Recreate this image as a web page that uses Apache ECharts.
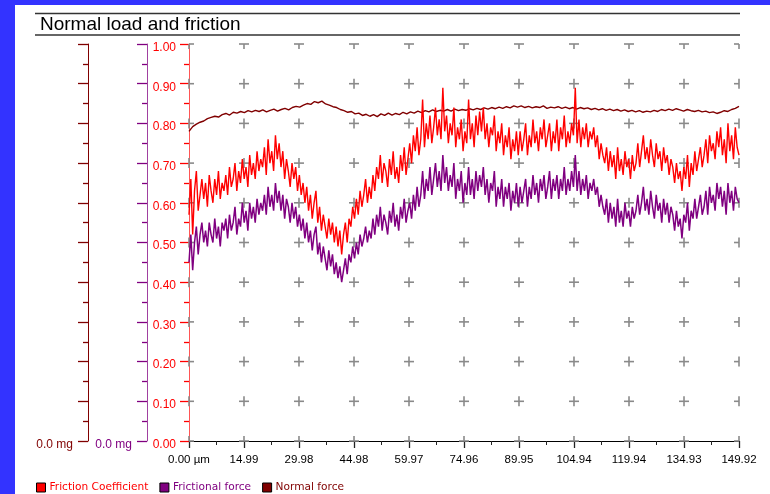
<!DOCTYPE html>
<html>
<head>
<meta charset="utf-8">
<script src="https://cdn.jsdelivr.net/npm/echarts@6/dist/echarts.min.js"></script>
<style>
html,body{margin:0;padding:0;background:#fff;}
#c{width:770px;height:494px;}
</style>
</head>
<body>
<div id="c"></div>
<script>
// ---- data ----
const xTickValues = [0, 14.99, 29.98, 44.98, 59.97, 74.96, 89.95, 104.94, 119.94, 134.93, 149.92];
const xTickLabels = ['0.00 µm', '14.99', '29.98', '44.98', '59.97', '74.96', '89.95', '104.94', '119.94', '134.93', '149.92'];
const yTickValues = [0, 0.1, 0.2, 0.3, 0.4, 0.5, 0.6, 0.7, 0.8, 0.9, 1.0];
const yTickLabels = ['0.00', '0.10', '0.20', '0.30', '0.40', '0.50', '0.60', '0.70', '0.80', '0.90', '1.00'];
const seriesNames = ['Friction Coefficient', 'Frictional force', 'Normal force'];

const frictionCoefficient = [
0.57,0.66,0.52,0.63,0.68,0.58,0.62,0.66,0.61,0.65,0.59,0.67,0.63,0.60,0.66,0.62,0.68,0.61,0.65,0.63,
0.67,0.62,0.69,0.64,0.66,0.70,0.63,0.68,0.65,0.71,0.66,0.69,0.64,0.72,0.67,0.70,0.66,0.73,0.68,0.71,
0.69,0.74,0.67,0.76,0.70,0.73,0.68,0.77,0.71,0.75,0.69,0.73,0.66,0.71,0.68,0.64,0.70,0.66,0.69,0.63,
0.67,0.62,0.65,0.60,0.64,0.58,0.62,0.56,0.60,0.63,0.55,0.59,0.53,0.57,0.54,0.51,0.56,0.52,0.55,0.50,
0.54,0.49,0.53,0.47,0.52,0.55,0.50,0.56,0.54,0.59,0.56,0.61,0.57,0.63,0.59,0.62,0.66,0.60,0.64,0.61,
0.67,0.63,0.69,0.66,0.72,0.65,0.70,0.68,0.64,0.71,0.67,0.73,0.66,0.69,0.65,0.72,0.68,0.74,0.67,0.71,
0.75,0.70,0.77,0.73,0.79,0.72,0.76,0.86,0.74,0.80,0.76,0.82,0.75,0.79,0.84,0.77,0.81,0.76,0.89,0.78,
0.82,0.75,0.80,0.77,0.84,0.74,0.79,0.76,0.81,0.73,0.78,0.75,0.86,0.76,0.80,0.74,0.82,0.77,0.83,0.78,
0.84,0.76,0.80,0.74,0.79,0.77,0.82,0.73,0.78,0.75,0.80,0.72,0.77,0.74,0.79,0.71,0.76,0.73,0.78,0.72,
0.78,0.73,0.76,0.80,0.72,0.77,0.74,0.81,0.75,0.78,0.73,0.79,0.76,0.81,0.74,0.77,0.80,0.73,0.78,0.75,
0.81,0.73,0.79,0.76,0.82,0.74,0.78,0.75,0.80,0.77,0.89,0.75,0.81,0.74,0.79,0.76,0.80,0.74,0.78,0.76,
0.79,0.74,0.77,0.71,0.75,0.72,0.70,0.74,0.68,0.73,0.69,0.72,0.66,0.74,0.68,0.71,0.67,0.73,0.69,0.71,
0.66,0.72,0.68,0.70,0.75,0.69,0.73,0.77,0.71,0.74,0.70,0.76,0.72,0.69,0.75,0.71,0.73,0.68,0.74,0.70,
0.72,0.67,0.71,0.69,0.65,0.70,0.66,0.68,0.63,0.69,0.66,0.72,0.64,0.70,0.67,0.73,0.68,0.71,0.74,0.69,
0.72,0.76,0.70,0.77,0.73,0.75,0.71,0.78,0.74,0.79,0.72,0.76,0.70,0.80,0.73,0.77,0.71,0.79,0.74,0.72
];
const frictionalForce = [
0.45,0.52,0.43,0.50,0.54,0.47,0.52,0.55,0.50,0.53,0.49,0.55,0.52,0.50,0.56,0.51,0.54,0.49,0.55,0.53,
0.56,0.51,0.57,0.53,0.55,0.59,0.52,0.56,0.54,0.60,0.55,0.58,0.53,0.60,0.56,0.59,0.55,0.61,0.57,0.60,
0.58,0.62,0.57,0.64,0.59,0.62,0.58,0.65,0.60,0.63,0.58,0.62,0.56,0.61,0.59,0.55,0.60,0.56,0.59,0.54,
0.57,0.53,0.56,0.51,0.55,0.50,0.53,0.48,0.52,0.54,0.47,0.50,0.45,0.49,0.46,0.43,0.48,0.44,0.47,0.42,
0.45,0.41,0.44,0.40,0.43,0.46,0.42,0.47,0.45,0.49,0.46,0.50,0.47,0.52,0.49,0.51,0.54,0.50,0.53,0.51,
0.56,0.52,0.57,0.54,0.59,0.53,0.57,0.55,0.52,0.58,0.55,0.60,0.54,0.57,0.53,0.59,0.56,0.61,0.55,0.58,
0.60,0.56,0.62,0.58,0.64,0.59,0.62,0.68,0.61,0.66,0.63,0.69,0.62,0.66,0.70,0.64,0.68,0.63,0.72,0.65,
0.69,0.63,0.67,0.64,0.70,0.61,0.66,0.63,0.68,0.60,0.65,0.62,0.69,0.62,0.66,0.61,0.68,0.63,0.67,0.64,
0.69,0.62,0.66,0.60,0.65,0.63,0.68,0.59,0.64,0.61,0.66,0.59,0.64,0.61,0.65,0.58,0.63,0.60,0.65,0.59,
0.64,0.60,0.63,0.66,0.59,0.64,0.61,0.67,0.62,0.65,0.60,0.66,0.63,0.67,0.61,0.64,0.68,0.61,0.66,0.63,
0.67,0.61,0.66,0.63,0.69,0.62,0.66,0.63,0.68,0.64,0.72,0.63,0.68,0.62,0.66,0.63,0.67,0.61,0.65,0.63,
0.66,0.62,0.64,0.59,0.62,0.59,0.57,0.61,0.55,0.60,0.56,0.59,0.54,0.61,0.55,0.58,0.54,0.60,0.56,0.58,
0.54,0.59,0.56,0.58,0.62,0.57,0.60,0.64,0.58,0.61,0.57,0.63,0.59,0.56,0.62,0.58,0.60,0.55,0.61,0.57,
0.60,0.55,0.59,0.57,0.53,0.58,0.54,0.56,0.51,0.57,0.55,0.60,0.53,0.58,0.56,0.61,0.56,0.59,0.62,0.57,
0.59,0.63,0.57,0.64,0.60,0.62,0.58,0.65,0.61,0.64,0.59,0.63,0.57,0.65,0.60,0.63,0.58,0.64,0.61,0.60
];
const normalForce = [
0.780,0.792,0.798,0.803,0.806,0.812,0.815,0.818,0.816,0.822,
0.825,0.821,0.828,0.826,0.830,0.827,0.832,0.829,0.833,0.830,
0.834,0.829,0.833,0.836,0.831,0.835,0.838,0.834,0.840,0.843,
0.841,0.846,0.850,0.848,0.855,0.852,0.856,0.849,0.846,0.842,
0.840,0.835,0.832,0.828,0.830,0.824,0.826,0.820,0.823,0.818,
0.822,0.817,0.824,0.820,0.826,0.821,0.825,0.822,0.828,0.824,
0.829,0.826,0.831,0.827,0.832,0.829,0.834,0.830,0.833,0.831,
0.835,0.831,0.836,0.832,0.835,0.833,0.837,0.834,0.838,0.835,
0.839,0.836,0.840,0.837,0.841,0.838,0.842,0.839,0.844,0.841,
0.844,0.840,0.843,0.839,0.842,0.840,0.844,0.838,0.841,0.839,
0.842,0.838,0.841,0.837,0.840,0.836,0.840,0.837,0.839,0.835,
0.838,0.834,0.837,0.833,0.836,0.832,0.835,0.831,0.834,0.830,
0.833,0.829,0.832,0.828,0.831,0.829,0.833,0.830,0.835,0.832,
0.836,0.833,0.837,0.834,0.831,0.835,0.832,0.830,0.833,0.829,
0.831,0.827,0.829,0.825,0.828,0.832,0.830,0.835,0.838,0.843
];

// ---- build ----
const xMax = 149.92;
const xInterval = 14.992;
function toPairs(arr) {
  const step = xMax / (arr.length - 1);
  return arr.map((v, i) => [i * step, v]);
}
const crossData = [];
xTickValues.forEach(x => yTickValues.forEach(y => crossData.push([x, y])));

const FONT = '"Liberation Sans", Arial, sans-serif';
const chart = echarts.init(document.getElementById('c'), null, {renderer: 'canvas'});

function sideAxis(offset, lineColor, tickColor, labelColor) {
  return {
    type: 'value', position: 'left', offset: offset,
    min: 0, max: 1, interval: 0.1,
    axisLine: {show: true, lineStyle: {color: lineColor, width: 1}},
    axisTick: {show: true, length: 10, lineStyle: {color: tickColor, width: 1.3}},
    minorTick: {show: true, splitNumber: 2, length: 5, lineStyle: {color: tickColor, width: 1.3}},
    splitLine: {show: false},
    axisLabel: {
      show: true, margin: 15, color: labelColor, fontSize: 12, fontFamily: FONT,
      verticalAlign: 'top', lineHeight: 7,
      formatter: v => (Math.abs(v) < 1e-9 ? '0.0 mg' : '')
    }
  };
}

function renderCross(params, api) {
  const p = api.coord([api.value(0), api.value(1)]);
  const cs = params.coordSys;
  const h = 5;
  const x1 = Math.max(p[0] - h, cs.x), x2 = Math.min(p[0] + h, cs.x + cs.width);
  const y1 = Math.max(p[1] - h, cs.y), y2 = Math.min(p[1] + h, cs.y + cs.height);
  const st = {stroke: '#8a8a8a', lineWidth: 1.6};
  return {
    type: 'group',
    children: [
      {type: 'line', shape: {x1: x1, y1: p[1], x2: x2, y2: p[1]}, style: st},
      {type: 'line', shape: {x1: p[0], y1: y1, x2: p[0], y2: y2}, style: st}
    ]
  };
}

const option = {
  animation: false,
  backgroundColor: '#ffffff',
  grid: {left: 189, right: 31, top: 44, bottom: 53, containLabel: false},
  graphic: [
    {type: 'rect', shape: {x: 0, y: 0, width: 770, height: 5}, style: {fill: '#3333ff'}, z: 100},
    {type: 'rect', shape: {x: 0, y: 0, width: 15, height: 494}, style: {fill: '#3333ff'}, z: 100},
    {type: 'line', shape: {x1: 35, y1: 13.5, x2: 740, y2: 13.5}, style: {stroke: '#333', lineWidth: 1.5}},
    {type: 'line', shape: {x1: 35, y1: 35, x2: 740, y2: 35}, style: {stroke: '#333', lineWidth: 1.5}},
    {type: 'text', left: 40, top: 15, style: {text: 'Normal load and friction', fill: '#000', font: 'normal 19px "Liberation Sans", Arial, sans-serif'}}
  ],
  legend: {
    show: true, left: 36, top: 482, orient: 'horizontal', padding: 0,
    icon: 'rect', itemWidth: 9, itemHeight: 9, itemGap: 11,
    itemStyle: {borderColor: '#000', borderWidth: 1},
    textStyle: {fontSize: 10.6, fontFamily: '"DejaVu Sans", sans-serif', padding: [0, 0, 0, -1]},
    data: [
      {name: seriesNames[0], textStyle: {color: '#ff0000'}},
      {name: seriesNames[1], textStyle: {color: '#800080'}},
      {name: seriesNames[2], textStyle: {color: '#800000'}}
    ]
  },
  xAxis: {
    type: 'value', min: 0, max: xMax, interval: xInterval,
    axisLine: {show: true, onZero: false, lineStyle: {color: '#000', width: 1}},
    axisTick: {show: true, length: 7, lineStyle: {color: '#222', width: 1.3}},
    minorTick: {show: true, splitNumber: 2, length: 4, lineStyle: {color: '#222', width: 1}},
    splitLine: {show: false},
    axisLabel: {
      show: true, margin: 13, color: '#000', fontSize: 11.5, fontFamily: FONT,
      showMinLabel: true, showMaxLabel: true,
      formatter: v => { const i = Math.round(v / xInterval); return xTickLabels[i] !== undefined ? xTickLabels[i] : ''; }
    }
  },
  yAxis: [
    {
      type: 'value', position: 'left', min: 0, max: 1, interval: 0.1,
      axisLine: {show: true, lineStyle: {color: '#ff5555', width: 1}},
      axisTick: {show: true, length: 9, lineStyle: {color: '#ff0000', width: 1.3}},
      minorTick: {show: true, splitNumber: 2, length: 5, lineStyle: {color: '#ff0000', width: 1.3}},
      splitLine: {show: false},
      axisLabel: {
        show: true, margin: 13, color: '#ff0000', fontSize: 12, fontFamily: FONT,
        verticalAlign: 'top', lineHeight: 7,
        formatter: v => { const i = Math.round(v * 10); return yTickLabels[i] !== undefined ? yTickLabels[i] : ''; }
      }
    },
    sideAxis(42, '#a040a0', '#800080', '#800080'),
    sideAxis(101, '#800000', '#800000', '#800000')
  ],
  series: [
    {
      name: 'grid', type: 'custom', data: crossData, silent: true,
      renderItem: renderCross, z: 1
    },
    {
      name: seriesNames[2], type: 'line', data: toPairs(normalForce), showSymbol: false,
      lineStyle: {color: '#800000', width: 1.4}, itemStyle: {color: '#800000'}, z: 3
    },
    {
      name: seriesNames[1], type: 'line', data: toPairs(frictionalForce), showSymbol: false,
      lineStyle: {color: '#800080', width: 1.5}, itemStyle: {color: '#800080'}, z: 3
    },
    {
      name: seriesNames[0], type: 'line', data: toPairs(frictionCoefficient), showSymbol: false,
      lineStyle: {color: '#ff0000', width: 1.4}, itemStyle: {color: '#ff0000'}, z: 4
    }
  ]
};
chart.setOption(option);
</script>
</body>
</html>
